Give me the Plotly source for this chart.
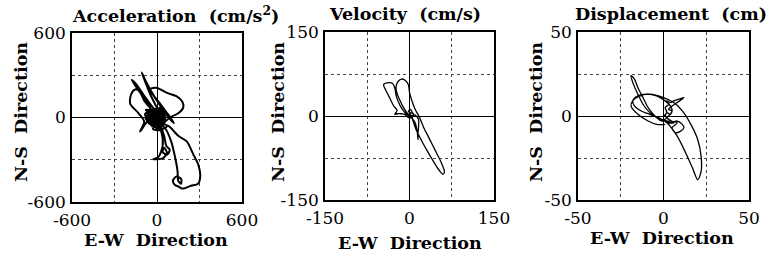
import plotly.graph_objects as go

W, H = 766, 257

# ---------------- data ----------------
acc_ew = [0, -30, 10, -50, 30, -20, 40, -60, 20, -40, 50, -10, -70, 30, 10, -50, 60, -30, -80, 40,
          -55, 35, -75, 25, -45, 55, -65, 15, -35, 45, -85, 5, -25, 50, -60, 30,
          -60, -120, -90,
          -130, -190, -180, -150, -120, -90, -40,
          -100, -179, -150, -80, -20,
          20, -50, -108, -80, -20, 40, 90, 120,
          80, 20, -50, 0, 70, 140, 180, 185, 150, 90, 40,
          -40, 30, -20, 50, -60, 0, 60, -30, 20, 70, -70, 40, -50, 20, -30, 50, -80, 10,
          50, 65, 90, 70, 40, 50, 70, 40, 0, -26, 10, 40, 30, 0,
          80, 150, 210, 260, 290, 305, 290, 240, 180, 150, 125, 112, 135, 170, 170, 150, 145, 125, 100, 60,
          -30, 20, -50, 10, -60, 40, -40, 30, -20, 0]
acc_ns = [0, 20, 40, -10, -30, 50, 10, 20, -50, -40, 30, -20, 40, 60, -60, 60, -20, -60, 0, 50,
          -45, 65, 10, -70, 55, -35, -25, 70, -65, 45, 25, -80, 35, -10, -40, 20,
          -20, -100, -30,
          30, 100, 170, 200, 180, 120, 60,
          150, 266, 240, 140, 60,
          20, 170, 320, 260, 150, 60, -10, -40,
          20, 100, 200, 210, 175, 150, 110, 70, 30, 0, -40,
          30, -10, -50, -50, 10, 60, 0, -80, -90, -60, 30, 70, -20, 45, -55, 15, 55, -35,
          -130, -200, -230, -265, -245, -215, -250, -290, -296, -296, -280, -200, -100, -40,
          -60, -130, -170, -270, -330, -420, -470, -485, -505, -490, -478, -450, -420, -435, -470, -450, -380, -270, -170, -80,
          0, 30, -30, 10, -40, 20, 50, -50, -10, 0]

vel_ew = [0, 3, -2, 2, 5, 8, 4, -3, -8, -14, -22, -26, -22, -28, -34, -40, -45, -46, -40, -30, -26, -24, -20, -14, -7,
          0, 4, 6, 12, 22, 33, 43, 52, 59, 62, 55, 45, 35, 25, 18, 10, 4, 0, -2, -8, -14, -20, -24, -22, -16, -10, -4,
          2, 8, 12, 16, 16, 15, 15, 14, 10, 4, -4, 0]
vel_ns = [0, 5, 8, 12, 6, 2, -3, -2, 3, 4, 4, 3, 10, 18, 30, 42, 52, 56, 59, 58, 50, 38, 26, 14, 5,
          0, -2, -8, -25, -45, -65, -82, -96, -104, -100, -80, -60, -40, -20, -3, 12, 28, 42, 56, 64, 66, 62, 52, 40, 26, 14, 5,
          0, 2, 0, -6, -20, -32, -42, -30, -12, -4, 0, 2]

dis_ew = [0, 2, 1, 3, 2, 4, 6, 9, 12, 8, 5, 3, 5, 4, 2, 1, 3, 6, 2, 0,
          4, 8, 11, 12, 10, 7, 5, 8,
          4, 0, -4, -8, -12, -15, -18, -19, -17, -15, -12, -9, -5, -1,
          2, 5, 4, 1, -4, -10, -15, -18, -17, -13, -8, -3, 2, 8, 13, 17, 20, 22, 22, 20, 16, 11, 6, 0, -8, -14, -18, -19, -15, -9, -4, 1]
dis_ns = [0, 2, 5, 7, 9, 8, 9, 10, 11, 8, 6, 4, 3, 1, 2, 0, -2, -4, -4, -2,
          -4, -3, -5, -7, -9, -10, -7, -4,
          -3, -3, -1, 2, 7, 13, 20, 24, 22, 17, 11, 5, 0, -3,
          -1, 3, 6, 9, 12, 13, 12, 9, 6, 3, 1, -1, -4, -12, -22, -31, -38, -33, -24, -14, -5, 3, 8, 11, 13, 12, 9, 6, 1, -3, -5, -5]

titles = ["Acceleration\u00a0\u00a0(cm/s<sup>2</sup>)", "Velocity\u00a0\u00a0(cm/s)", "Displacement\u00a0\u00a0(cm)"]
limits = [600, 150, 50]

panels = [
    dict(x=acc_ew, y=acc_ns, lw=2.0, dom=(72, 242, 33, 202), tx=175, ylab=21, xlab=(156, 240)),
    dict(x=vel_ew, y=vel_ns, lw=1.3, dom=(325, 494, 32, 200), tx=405, ylab=278, xlab=(410, 243)),
    dict(x=dis_ew, y=dis_ns, lw=1.3, dom=(578, 749, 32, 200), tx=671, ylab=536, xlab=(662, 238)),
]

FONT = "DejaVu Serif"
fig = go.Figure()
ann = []
for i, p in enumerate(panels):
    n = "" if i == 0 else str(i + 1)
    fig.add_trace(go.Scatter(x=p["x"], y=p["y"], mode="lines",
                             line=dict(color="black", width=p["lw"], shape="spline", smoothing=0.8),
                             xaxis="x" + n, yaxis="y" + n, showlegend=False, hoverinfo="skip"))
    L = limits[i]
    x0, x1, y0, y1 = p["dom"]
    common = dict(range=[-L, L], tickmode="array", tickvals=[-L, 0, L],
                  ticktext=[str(-L), "0", str(L)], automargin=False,
                  showgrid=False,
                  minor=dict(tickmode="array", tickvals=[-L / 2, L / 2], showgrid=True,
                             gridcolor="#444", griddash="dot", gridwidth=1, ticks=""),
                  zeroline=True, zerolinecolor="black", zerolinewidth=1.3,
                  showline=True, mirror=True, linecolor="black", linewidth=1.6,
                  ticks="", tickfont=dict(family=FONT, size=17, color="black"), fixedrange=True)
    fig.layout["xaxis" + n] = dict(common, domain=[x0 / W, x1 / W], anchor="y" + n, ticklabelstandoff=2)
    fig.layout["yaxis" + n] = dict(common, domain=[1 - y1 / H, 1 - y0 / H], anchor="x" + n, ticklabelstandoff=1)
    ann.append(dict(text="<b>" + titles[i] + "</b>", x=p["tx"] / W, y=1 - 14 / H, xref="paper", yref="paper",
                    showarrow=False, font=dict(family=FONT, size=17.5, color="black"), xanchor="center", yanchor="middle"))
    ann.append(dict(text="<b>N-S\u00a0\u00a0Direction</b>", x=p["ylab"] / W, y=1 - 112 / H, xref="paper", yref="paper",
                    showarrow=False, textangle=-90, font=dict(family=FONT, size=17.5, color="black"),
                    xanchor="center", yanchor="middle"))
    ann.append(dict(text="<b>E-W\u00a0\u00a0Direction</b>", x=p["xlab"][0] / W, y=1 - p["xlab"][1] / H,
                    xref="paper", yref="paper", showarrow=False,
                    font=dict(family=FONT, size=17.5, color="black"), xanchor="center", yanchor="middle"))

fig.update_layout(width=W, height=H, margin=dict(l=0, r=0, t=0, b=0),
                  paper_bgcolor="white", plot_bgcolor="white", annotations=ann)
fig.write_html("out.html", config={"displayModeBar": False},
               post_script="document.body.style.margin='0';document.body.style.overflow='hidden';")
